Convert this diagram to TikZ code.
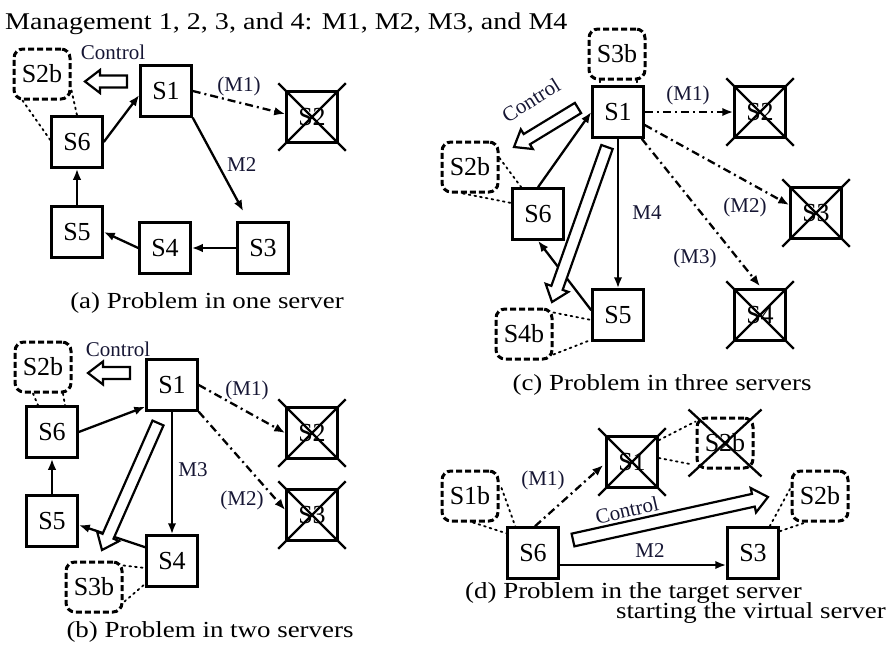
\documentclass[tikz,border=0pt]{standalone}
\usepackage{fontspec}
\setmainfont{Liberation Serif}
\newfontfamily\widefont[FakeStretch=1.17]{Liberation Serif}
\usetikzlibrary{arrows.meta,calc}
\definecolor{labelink}{RGB}{22,22,52}

\tikzset{
  srv/.style={draw, line width=2.5pt, minimum size=51pt, inner sep=0pt,
    font=\fontsize{26}{28}\selectfont},
  bak/.style={draw, line width=3pt, dash pattern=on 6pt off 3pt,
    rounded corners=9pt, minimum width=56pt, minimum height=50pt,
    inner sep=0pt, font=\fontsize{26}{28}\selectfont},
  lbl/.style={text=labelink, font=\fontsize{21}{23}\selectfont, inner sep=0pt},
  capt/.style={font=\widefont\fontsize{23}{26}\selectfont, inner sep=0pt, anchor=base},
  flow/.style={line width=2.3pt, -{Latex[length=11pt,width=8.5pt]}},
  mig/.style={flow, dash pattern=on 8pt off 4pt on 2pt off 4pt},
  link/.style={line width=1.8pt, dash pattern=on 1.8pt off 4pt, line cap=round},
  xline/.style={line width=2.3pt},
  fat/.style={draw, line width=2.2pt, fill=white, line join=miter},
}

% cross out a server node
\newcommand\knockout[1]{%
  \draw[xline] ($(#1.north west)+(-7,-7)$) -- ($(#1.south east)+(7,7)$);
  \draw[xline] ($(#1.north east)+(7,-7)$) -- ($(#1.south west)+(-7,7)$);}

% hollow block arrow from #1 (tail) to #2 (tip):
% #3 shaft half width, #4 head half width, #5 head length
\newcommand\fatarrow[5]{%
  \path ($(#2)!#5!(#1)$) coordinate (fa-base);
  \draw[fat] ($(#1)!#3!90:(#2)$) -- ($(fa-base)!#3!90:(#2)$)
    -- ($(fa-base)!#4!90:(#2)$) -- (#2) -- ($(fa-base)!#4!-90:(#2)$)
    -- ($(fa-base)!#3!-90:(#2)$) -- ($(#1)!#3!-90:(#2)$) -- cycle;}

\begin{document}
\begin{tikzpicture}[x=1pt,y=-1pt]
\useasboundingbox (0,0) rectangle (892,645);

\node[anchor=base west, font=\widefont\fontsize{24}{26}\selectfont, inner sep=0pt]
  (title) at (5,29) {Management 1, 2, 3, and 4: M1, M2, M3, and M4};

%% (a) one server down
\node[bak] (a-S2b) at (42,74) {S2b};
\node[srv] (a-S1) at (166,91) {S1};
\node[srv] (a-S2) at (312,117) {S2};
\node[srv] (a-S6) at (77,142) {S6};
\node[srv] (a-S5) at (77,232) {S5};
\node[srv] (a-S4) at (165,248) {S4};
\node[srv] (a-S3) at (263,248) {S3};
\knockout{a-S2}
\node[lbl, anchor=base] (a-ctl) at (113,59) {Control};
\coordinate (a-ct) at (127,81.5);
\coordinate (a-ch) at (85,81.5);
\fatarrow{a-ct}{a-ch}{6pt}{11.5pt}{15pt}
\draw[flow] (a-S6.east) -- ($(a-S1.west)+(0,4)$);
\draw[flow] (a-S1.south east) -- ($(a-S3.north west)+(7,-10)$)
  node[lbl, pos=0.5, right=8pt] (a-m2) {M2};
\draw[mig] (a-S1.east) -- ($(a-S2.west)+(0,-3)$)
  node[lbl, pos=0.5, above=5pt] (a-m1) {(M1)};
\draw[flow] (a-S3.west) -- (a-S4.east);
\draw[flow] (a-S4.west) -- (a-S5.east);
\draw[flow] (a-S5.north) -- (a-S6.south);
\draw[link] ($(a-S2b.south west)+(10,0)$) -- ($(a-S6.west)+(0,-2)$);
\draw[link] ($(a-S2b.south east)+(0,-10)$) -- (a-S6.north);
\node[capt] (a-cap) at (207,308) {(a) Problem in one server};

%% (b) two servers down
\node[bak] (b-S2b) at (43,367) {S2b};
\node[srv] (b-S1) at (172,385) {S1};
\node[srv] (b-S6) at (52,432) {S6};
\node[srv] (b-S5) at (52,521) {S5};
\node[srv] (b-S4) at (172,561) {S4};
\node[bak] (b-S3b) at (94,587) {S3b};
\node[srv] (b-S2) at (312,433) {S2};
\node[srv] (b-S3) at (312,515) {S3};
\knockout{b-S2}
\knockout{b-S3}
\node[lbl, anchor=base] (b-ctl) at (118,356) {Control};
\coordinate (b-ct) at (130,373);
\coordinate (b-ch) at (88,373);
\fatarrow{b-ct}{b-ch}{6pt}{11.5pt}{15pt}
\coordinate (b-bt) at (158,423);
\coordinate (b-bh) at (102,550);
\draw[flow] (b-S6.east) -- ($(b-S1.south west)+(0,-5)$);
\draw[flow] (b-S5.north) -- (b-S6.south);
\draw[flow] ($(b-S4.north west)+(0,13)$) -- ($(b-S5.east)+(0,4)$);
\fatarrow{b-bt}{b-bh}{6pt}{12pt}{15pt}
\draw[flow] (b-S1.south) -- (b-S4.north);
\node[lbl] (b-m3) at (193,470) {M3};
\draw[mig] (b-S1.east) -- (b-S2.west);
\node[lbl] (b-m1) at (247,390) {(M1)};
\draw[mig] (b-S1.south east) -- ($(b-S3.west)+(0,-5)$);
\node[lbl] (b-m2) at (242,500) {(M2)};
\draw[link] ($(b-S2b.south)+(-10,0)$) -- ($(b-S6.north)+(-14,0)$);
\draw[link] ($(b-S2b.south)+(20,0)$) -- ($(b-S6.north)+(13,0)$);
\draw[link] ($(b-S3b.north east)+(0,5)$) -- ($(b-S4.west)+(0,7)$);
\draw[link] ($(b-S3b.south east)+(1,-12)$) -- ($(b-S4.south west)+(0,-4)$);
\node[capt] (b-cap) at (210,637) {(b) Problem in two servers};

%% (c) three servers down
\node[bak] (c-S3b) at (617,54) {S3b};
\node[srv] (c-S1) at (618,112) {S1};
\node[srv] (c-S2) at (760,112) {S2};
\node[srv] (c-S3) at (816,213) {S3};
\node[srv] (c-S4) at (760,315) {S4};
\node[srv] (c-S6) at (538,214) {S6};
\node[srv] (c-S5) at (618,315) {S5};
\node[bak] (c-S2b) at (470,167) {S2b};
\node[bak] (c-S4b) at (524,334) {S4b};
\knockout{c-S2}
\knockout{c-S3}
\knockout{c-S4}
\node[lbl, rotate=32] (c-ctl) at (531,100) {Control};
\coordinate (c-ct) at (578,108);
\coordinate (c-ch) at (514,147);
\fatarrow{c-ct}{c-ch}{6pt}{11.5pt}{15pt}
\draw[flow] (c-S6.north) -- (c-S1.west);
\draw[flow] ($(c-S5.north west)+(0,22)$) -- (c-S6.south);
\coordinate (c-bt) at (607,147);
\coordinate (c-bh) at (552,302);
\fatarrow{c-bt}{c-bh}{6pt}{12pt}{15pt}
\draw[flow] (c-S1.south) -- (c-S5.north);
\node[lbl] (c-m4) at (647,213) {M4};
\draw[mig] (c-S1.east) -- (c-S2.west);
\node[lbl] (c-m1) at (688,95) {(M1)};
\draw[mig] ($(c-S1.east)+(0,13)$) -- ($(c-S3.west)+(0,-8)$);
\node[lbl] (c-m2) at (745,207) {(M2)};
\draw[mig] ($(c-S1.south east)+(-3,0)$) -- ($(c-S4.north)+(0,-2)$);
\node[lbl] (c-m3) at (695,258) {(M3)};
\draw[link] ($(c-S3b.south)+(-17,0)$) -- ($(c-S1.north)+(-18,0)$);
\draw[link] ($(c-S3b.south)+(20,0)$) -- ($(c-S1.north)+(19,0)$);
\draw[link] ($(c-S2b.east)+(0,-9)$) -- ($(c-S6.north west)+(10,0)$);
\draw[link] ($(c-S2b.south)+(-7,0)$) -- ($(c-S6.west)+(0,-11)$);
\draw[link] ($(c-S4b.north east)+(0,5)$) -- ($(c-S5.west)+(0,5)$);
\draw[link] ($(c-S4b.south east)+(0,-6)$) -- ($(c-S5.south west)+(0,-2)$);
\node[capt] (c-cap) at (662,390) {(c) Problem in three servers};

%% (d) target server down, virtual server started
\node[srv] (d-S1) at (632,462) {S1};
\node[bak] (d-S2bx) at (725,443) {S2b};
\node[bak] (d-S1b) at (470,496) {S1b};
\node[srv] (d-S6) at (533,553) {S6};
\node[srv] (d-S3) at (753,553) {S3};
\node[bak] (d-S2b) at (820,496) {S2b};
\knockout{d-S1}
\knockout{d-S2bx}
\draw[link] ($(d-S1.north east)+(0,5)$) -- ($(d-S2bx.north west)+(0,5)$);
\draw[link] ($(d-S1.east)+(0,-4)$) -- ($(d-S2bx.south west)+(-3,-5)$);
\draw[link] ($(d-S1b.east)+(2,-8)$) -- ($(d-S6.north west)+(9,0)$);
\draw[link] ($(d-S1b.south)+(3,0)$) -- ($(d-S6.north west)+(0,7)$);
\draw[link] ($(d-S3.north east)+(-10,0)$) -- ($(d-S2b.west)+(0,-8)$);
\draw[link] ($(d-S3.north east)+(0,5)$) -- ($(d-S2b.south west)+(15,0)$);
\draw[mig] ($(d-S6.north)+(2,0)$) -- ($(d-S1.west)+(-2,3)$);
\node[lbl] (d-m1) at (543,480) {(M1)};
\coordinate (d-ct) at (573,540);
\coordinate (d-ch) at (768,497);
\fatarrow{d-ct}{d-ch}{6.5pt}{12.5pt}{15pt}
\node[lbl, rotate=13] (d-ctl) at (627,510) {Control};
\draw[flow] ($(d-S6.east)+(0,12)$) -- ($(d-S3.west)+(0,12)$);
\node[lbl] (d-m2) at (650,551) {M2};
\node[capt, anchor=base west] (d-cap1) at (465,598) {(d) Problem in the target server};
\node[capt, anchor=base east] (d-cap2) at (886,618) {starting the virtual server};
\end{tikzpicture}
\end{document}
